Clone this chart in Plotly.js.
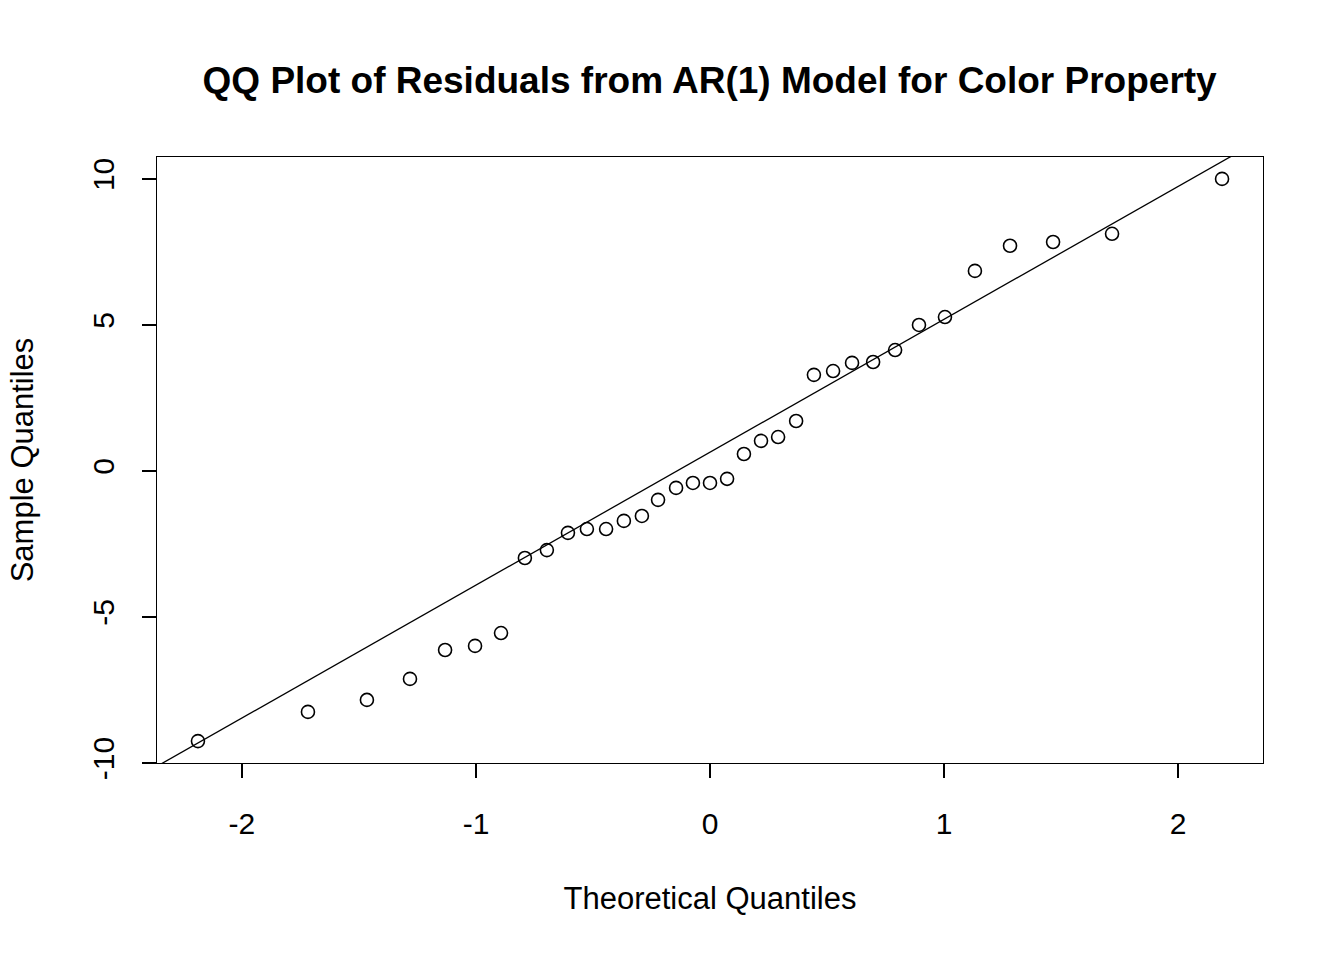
<!DOCTYPE html>
<html>
<head>
<meta charset="utf-8">
<script src="https://cdn.plot.ly/plotly-3.0.1.min.js"></script>
<style>body{margin:0;background:#fff}#plot{width:1344px;height:960px}</style>
</head>
<body>
<div id="plot"></div>
<script>
// theoretical quantiles and sample quantiles
var theoretical = [-2.188, -1.718, -1.466, -1.282, -1.132, -1.004, -0.893, -0.791, -0.697, -0.607,
  -0.526, -0.444, -0.368, -0.291, -0.222, -0.145, -0.073, 0, 0.073, 0.145,
  0.218, 0.291, 0.368, 0.444, 0.526, 0.607, 0.697, 0.791, 0.893, 1.004,
  1.132, 1.282, 1.466, 1.718, 2.188];
var sample = [-9.25, -8.25, -7.84, -7.12, -6.13, -5.99, -5.55, -2.98, -2.71, -2.12,
  -1.99, -1.99, -1.71, -1.54, -0.99, -0.58, -0.41, -0.41, -0.27, 0.58,
  1.03, 1.16, 1.71, 3.29, 3.42, 3.70, 3.73, 4.14, 5.00, 5.27,
  6.85, 7.71, 7.84, 8.12, 10.0];
var lineX = [-3, 3];
var lineSlope = 4.55;
var lineIntercept = 0.64;

var font = "Liberation Sans, Arial, sans-serif";
var traces = [
  {x: theoretical, y: sample, mode: 'markers', type: 'scatter',
   marker: {symbol: 'circle-open', size: 13, color: '#000', line: {width: 1.6, color: '#000'}}},
  {x: lineX, y: lineX.map(function(v){ return lineIntercept + lineSlope * v; }),
   mode: 'lines', type: 'scatter', line: {color: '#000', width: 1.3}}
];
var layout = {
  width: 1344, height: 960, showlegend: false,
  paper_bgcolor: '#fff', plot_bgcolor: '#fff',
  margin: {l: 157, r: 81, t: 157, b: 197},
  font: {family: font, size: 30, color: '#000'},
  title: {text: '<b>QQ Plot of Residuals from AR(1) Model for Color Property</b>',
    font: {size: 37}, x: 0.528, xanchor: 'center', y: 0.917, yanchor: 'middle'},
  xaxis: {range: [-2.363, 2.363], tickvals: [-2, -1, 0, 1, 2], ticktext: ['-2','-1','0','1','2'],
    showgrid: false, zeroline: false, showline: true, mirror: true, linecolor: '#000', linewidth: 1.3,
    ticks: 'outside', ticklen: 14, tickwidth: 1.3, tickcolor: '#000', ticklabelstandoff: 20,
    title: {text: 'Theoretical Quantiles', standoff: 48, font: {size: 31}}},
  yaxis: {range: [-10, 10.75], tickvals: [-10, -5, 0, 5, 10], ticktext: ['-10','-5','0','5','10'],
    tickangle: -90,
    showgrid: false, zeroline: false, showline: true, mirror: true, linecolor: '#000', linewidth: 1.3,
    ticks: 'outside', ticklen: 14, tickwidth: 1.3, tickcolor: '#000', ticklabelstandoff: 16,
    title: {text: 'Sample Quantiles', standoff: 44, font: {size: 31}}}
};
Plotly.newPlot('plot', traces, layout, {staticPlot: true});
</script>
</body>
</html>
